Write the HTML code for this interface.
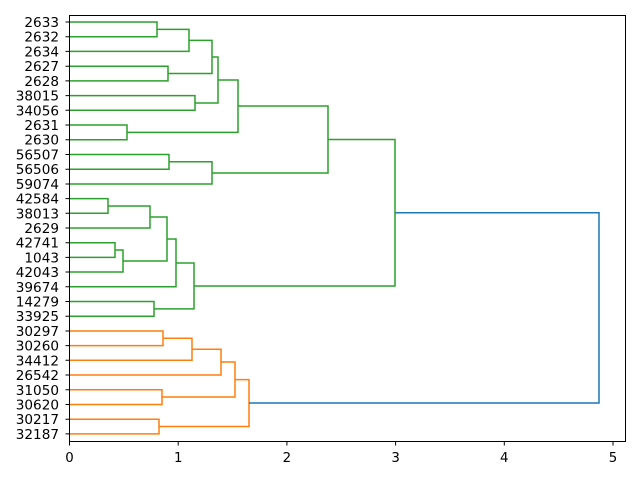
<!DOCTYPE html>
<html><head><meta charset="utf-8"><style>
html,body{margin:0;padding:0;background:#fff;}
svg{display:block;font-family:"DejaVu Sans","Liberation Sans",sans-serif;}
</style></head><body>
<svg width="640" height="480" viewBox="0 0 640 480" xmlns="http://www.w3.org/2000/svg">
<g fill="none" stroke-width="1.5">
<g stroke="#2ca02c">
<path d="M69.5 22 H157 V36.7 H69.5"/>
<path d="M157 29.4 H189 V51.4 H69.5"/>
<path d="M69.5 66.2 H168 V80.9 H69.5"/>
<path d="M189 40.4 H212 V73.5 H168"/>
<path d="M69.5 95.6 H195 V110.3 H69.5"/>
<path d="M212 57 H218 V103 H195"/>
<path d="M69.5 125 H127 V139.7 H69.5"/>
<path d="M218 80 H238 V132.4 H127"/>
<path d="M69.5 154.5 H169 V169.2 H69.5"/>
<path d="M169 161.8 H212 V184 H69.5"/>
<path d="M238 106 H328 V173 H212"/>
<path d="M69.5 198.6 H108 V213.3 H69.5"/>
<path d="M108 206 H150 V228 H69.5"/>
<path d="M69.5 242.7 H115 V257.4 H69.5"/>
<path d="M115 250 H123 V272 H69.5"/>
<path d="M150 217 H167 V261 H123"/>
<path d="M167 239 H176 V286.8 H69.5"/>
<path d="M69.5 301.5 H154 V316.2 H69.5"/>
<path d="M176 263 H194 V308.9 H154"/>
<path d="M328 139.5 H395 V286 H194"/>
</g>
<g stroke="#ff7f0e">
<path d="M69.5 331 H163 V345.6 H69.5"/>
<path d="M163 338.3 H192 V360.3 H69.5"/>
<path d="M192 349.3 H221 V375 H69.5"/>
<path d="M69.5 389.8 H162 V404.5 H69.5"/>
<path d="M221 362 H235 V397 H162"/>
<path d="M69.5 419.2 H159 V433.9 H69.5"/>
<path d="M235 379.6 H249 V426.5 H159"/>
</g>
<g stroke="#1f77b4">
<path d="M395 212.7 H599 V403 H249"/>
</g>
</g>
<rect x="69.5" y="15.5" width="556" height="426" fill="none" stroke="#000" stroke-width="1"/>
<g stroke="#000" stroke-width="1">
<path d="M69.5 441.5v4 M178.2 441.5v4 M286.9 441.5v4 M395.6 441.5v4 M504.3 441.5v4 M613 441.5v4"/>
<path d="M69.5 22h-4 M69.5 36.7h-4 M69.5 51.4h-4 M69.5 66.2h-4 M69.5 80.9h-4 M69.5 95.6h-4 M69.5 110.3h-4 M69.5 125h-4 M69.5 139.7h-4 M69.5 154.5h-4 M69.5 169.2h-4 M69.5 184h-4 M69.5 198.6h-4 M69.5 213.3h-4 M69.5 228h-4 M69.5 242.7h-4 M69.5 257.4h-4 M69.5 272h-4 M69.5 286.8h-4 M69.5 301.5h-4 M69.5 316.2h-4 M69.5 331h-4 M69.5 345.6h-4 M69.5 360.3h-4 M69.5 375h-4 M69.5 389.8h-4 M69.5 404.5h-4 M69.5 419.2h-4 M69.5 433.9h-4"/>
</g>
<g font-size="13.33" fill="#000" text-anchor="middle">
<text x="69.5" y="462">0</text>
<text x="178.2" y="462">1</text>
<text x="286.9" y="462">2</text>
<text x="395.6" y="462">3</text>
<text x="504.3" y="462">4</text>
<text x="613" y="462">5</text>
</g>
<g font-size="13.6" fill="#000" text-anchor="end">
<text x="59" y="27">2633</text>
<text x="59" y="41.7">2632</text>
<text x="59" y="56.4">2634</text>
<text x="59" y="71.2">2627</text>
<text x="59" y="85.9">2628</text>
<text x="59" y="100.6">38015</text>
<text x="59" y="115.3">34056</text>
<text x="59" y="130">2631</text>
<text x="59" y="144.7">2630</text>
<text x="59" y="159.5">56507</text>
<text x="59" y="174.2">56506</text>
<text x="59" y="189">59074</text>
<text x="59" y="203.6">42584</text>
<text x="59" y="218.3">38013</text>
<text x="59" y="233">2629</text>
<text x="59" y="247.7">42741</text>
<text x="59" y="262.4">1043</text>
<text x="59" y="277">42043</text>
<text x="59" y="291.8">39674</text>
<text x="59" y="306.5">14279</text>
<text x="59" y="321.2">33925</text>
<text x="59" y="336">30297</text>
<text x="59" y="350.6">30260</text>
<text x="59" y="365.3">34412</text>
<text x="59" y="380">26542</text>
<text x="59" y="394.8">31050</text>
<text x="59" y="409.5">30620</text>
<text x="59" y="424.2">30217</text>
<text x="59" y="438.9">32187</text>
</g>
</svg>
</body></html>
